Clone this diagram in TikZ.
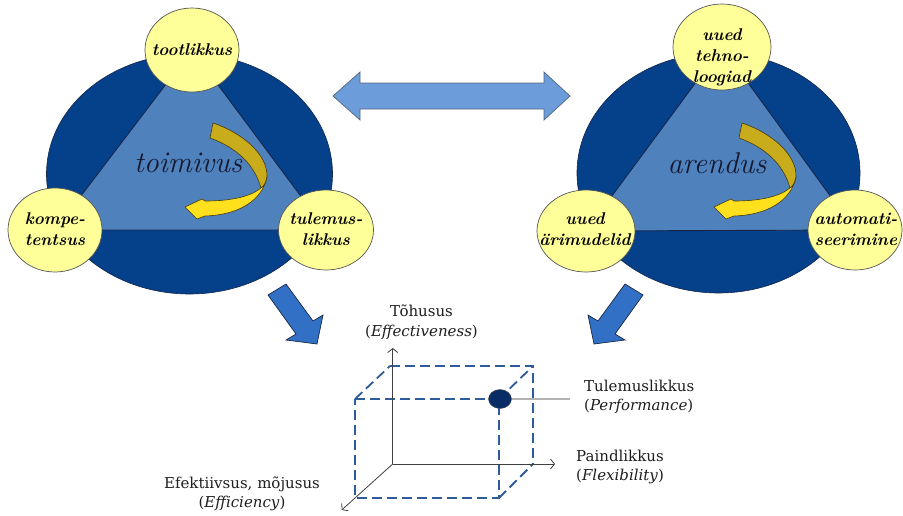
\documentclass[tikz,border=0pt]{standalone}
\usepackage{fontspec}
\newfontfamily\labelfont{DejaVu Serif}
\usetikzlibrary{shapes.geometric,arrows.meta}

\definecolor{ringblue}{RGB}{5,64,138}
\definecolor{ringedge}{RGB}{22,38,72}
\definecolor{trifill}{RGB}{79,129,189}
\definecolor{bubblefill}{RGB}{255,255,153}
\definecolor{bubbleedge}{RGB}{85,85,85}
\definecolor{linkfill}{RGB}{108,157,218}
\definecolor{linkedge}{RGB}{85,100,125}
\definecolor{flowfill}{RGB}{49,112,196}
\definecolor{flowedge}{RGB}{25,40,70}
\definecolor{cubeblue}{RGB}{46,92,155}
\definecolor{dotblue}{RGB}{8,45,102}
\definecolor{goldback}{RGB}{201,172,28}
\definecolor{goldfront}{RGB}{255,224,28}
\definecolor{goldedge}{RGB}{70,58,10}
\definecolor{inkblue}{RGB}{20,24,48}
\definecolor{labelink}{RGB}{30,30,30}

\begin{document}
\begin{tikzpicture}[x=1pt,y=-1pt,
  ring/.style={fill=ringblue, draw=ringedge, line width=0.6pt},
  tri/.style={fill=trifill, draw=ringedge, line width=0.9pt, line join=round},
  bubble/.style={ellipse, fill=bubblefill, draw=bubbleedge, line width=0.7pt, inner sep=0pt},
  bubbletext/.style={inner sep=0pt, align=center, text=black,
    font=\fontsize{17}{21}\selectfont\bfseries\itshape},
  bigword/.style={inner sep=0pt, text=inkblue, font=\fontsize{30}{36}\selectfont\itshape},
  linkarrow/.style={fill=linkfill, draw=linkedge, line width=0.7pt, line join=miter},
  flowarrow/.style={fill=flowfill, draw=flowedge, line width=0.7pt, line join=miter},
  goldrear/.style={fill=goldback, draw=goldedge, line width=0.6pt},
  goldfore/.style={fill=goldfront, draw=goldedge, line width=0.6pt},
  cubeedge/.style={draw=cubeblue, line width=1.8pt, dash pattern=on 10pt off 5pt},
  axis/.style={draw=black!75, line width=0.8pt, -{Straight Barb[length=4pt,width=10pt]}},
  pointer/.style={draw=black!30, line width=1.2pt},
  lbl/.style={inner sep=0pt, text=labelink, font=\labelfont\fontsize{15}{19.5}\selectfont},
]
\path[use as bounding box] (0,0) rectangle (903,515);

% corners of the two triangles (centres of the yellow bubbles)
\coordinate (LT) at (192,50);
\coordinate (LL) at (55,230);
\coordinate (LR) at (326,230);
\coordinate (RT) at (722,47);
\coordinate (RL) at (586,231);
\coordinate (RR) at (855,230);

% left wheel: toimivus
\path[ring] (189.5,174) ellipse [x radius=143pt, y radius=120pt];
\begin{scope}
  \clip (189.5,174) ellipse [x radius=143pt, y radius=120pt];
  \path[tri] (LT) -- (LL) -- (LR) -- cycle;
\end{scope}

% right wheel: arendus
\path[ring] (718.5,173) ellipse [x radius=141.5pt, y radius=120pt];
\begin{scope}
  \clip (718.5,173) ellipse [x radius=141.5pt, y radius=120pt];
  \path[tri] (RT) -- (RL) -- (RR) -- cycle;
\end{scope}

% centre words
\node[bigword] (toimivus) at (188,163) {toimivus};
\node[bigword] (arendus) at (717,163) {arendus};

% turning gold arrows inside the triangles
\foreach \dx in {0,529}{
\begin{scope}[xshift=\dx pt]
  \path[goldrear] (213,123) .. controls (243,133) and (268,155) .. (267,177)
     .. controls (266,183) and (264,186) .. (261,188)
     .. controls (255,166) and (238,148) .. (210,138) -- cycle;
  \path[goldfore] (261,188) .. controls (250,197) and (230,201) .. (205,201)
     -- (202,199) -- (185,207) -- (197,219) -- (205,216)
     .. controls (238,215) and (262,201) .. (267,177)
     .. controls (266,183) and (264,186) .. (261,188) -- cycle;
\end{scope}}

% yellow bubbles
\node[bubble, minimum width=94pt, minimum height=84pt] (tootlikkus) at (LT) {};
\node[bubble, minimum width=94pt, minimum height=84pt] (kompetentsus) at (LL) {};
\node[bubble, minimum width=95pt, minimum height=80pt] (tulemuslikkus) at (LR) {};
\node[bubble, minimum width=98pt, minimum height=86pt] (tehnoloogiad) at (RT) {};
\node[bubble, minimum width=98pt, minimum height=82pt] (arimudelid) at (RL) {};
\node[bubble, minimum width=94pt, minimum height=80pt] (automatiseerimine) at (RR) {};

\node[bubbletext] (tootlikkus-t) at (192,50) {tootlikkus};
\node[bubbletext] (kompetentsus-t) at (55,229) {kompe-\\tentsus};
\node[bubbletext] (tulemuslikkus-t) at (326,229) {tulemus-\\likkus};
\node[bubbletext] (tehnoloogiad-t) at (722,57) {uued\\tehno-\\loogiad};
\node[bubbletext] (arimudelid-t) at (585,229) {uued\\ärimudelid};
\node[bubbletext] (automatiseerimine-t) at (856,229) {automati-\\seerimine};

% two-way link between the wheels
\path[linkarrow] (333,96) -- (360,72) -- (360,83) -- (544,83) -- (544,72) -- (570,96)
  -- (544,120) -- (544,109) -- (360,109) -- (360,120) -- cycle;

% arrows down to the cube
\path[flowarrow] (286,284) -- (268,295) -- (296,334) -- (286,340) -- (317,344)
  -- (323,315) -- (313,321) -- cycle;
\path[flowarrow] (625,284) -- (643,295) -- (615,334) -- (625,340) -- (594,344)
  -- (588,315) -- (598,321) -- cycle;

% performance cube
\coordinate (O) at (392.7,464);
\coordinate (Ytop) at (392.7,348);
\coordinate (Xend) at (555,464);
\coordinate (Zend) at (341.7,510);
\coordinate (F1) at (355,399);
\coordinate (F2) at (499,399);
\coordinate (F3) at (499,498);
\coordinate (F4) at (355,498);
\coordinate (B1) at (390,366);
\coordinate (B2) at (533,366);
\coordinate (B3) at (533,464);

\draw[cubeedge] (F1) -- (F2) -- (F3) -- (F4) -- cycle;
\draw[cubeedge] (B1) -- (B2) -- (B3);
\draw[cubeedge] (F1) -- (B1);
\draw[cubeedge] (F2) -- (B2);
\draw[cubeedge] (F3) -- (B3);

\draw[axis] (O) -- (Ytop);
\draw[axis] (O) -- (Xend);
\draw[axis] (O) -- (Zend);

\coordinate (perfend) at (570,399);
\node[ellipse, fill=dotblue, draw=black!70, line width=0.4pt, minimum width=23pt,
      minimum height=19pt, inner sep=0pt] (perf) at (500,399) {};
\draw[pointer] (perf.east) -- (perfend);

% axis labels
\node[lbl, align=center] (tohusus) at (421.5,322) {Tõhusus\\(\textit{Effectiveness})};
\node[lbl, align=left, anchor=west] (tulemus) at (584,397) {Tulemuslikkus\\(\textit{Performance})};
\node[lbl, align=left, anchor=west] (paindlikkus) at (576,467) {Paindlikkus\\(\textit{Flexibility})};
\node[lbl, align=center] (efektiivsus) at (242,494) {Efektiivsus, mõjusus\\(\textit{Efficiency})};
\end{tikzpicture}
\end{document}
